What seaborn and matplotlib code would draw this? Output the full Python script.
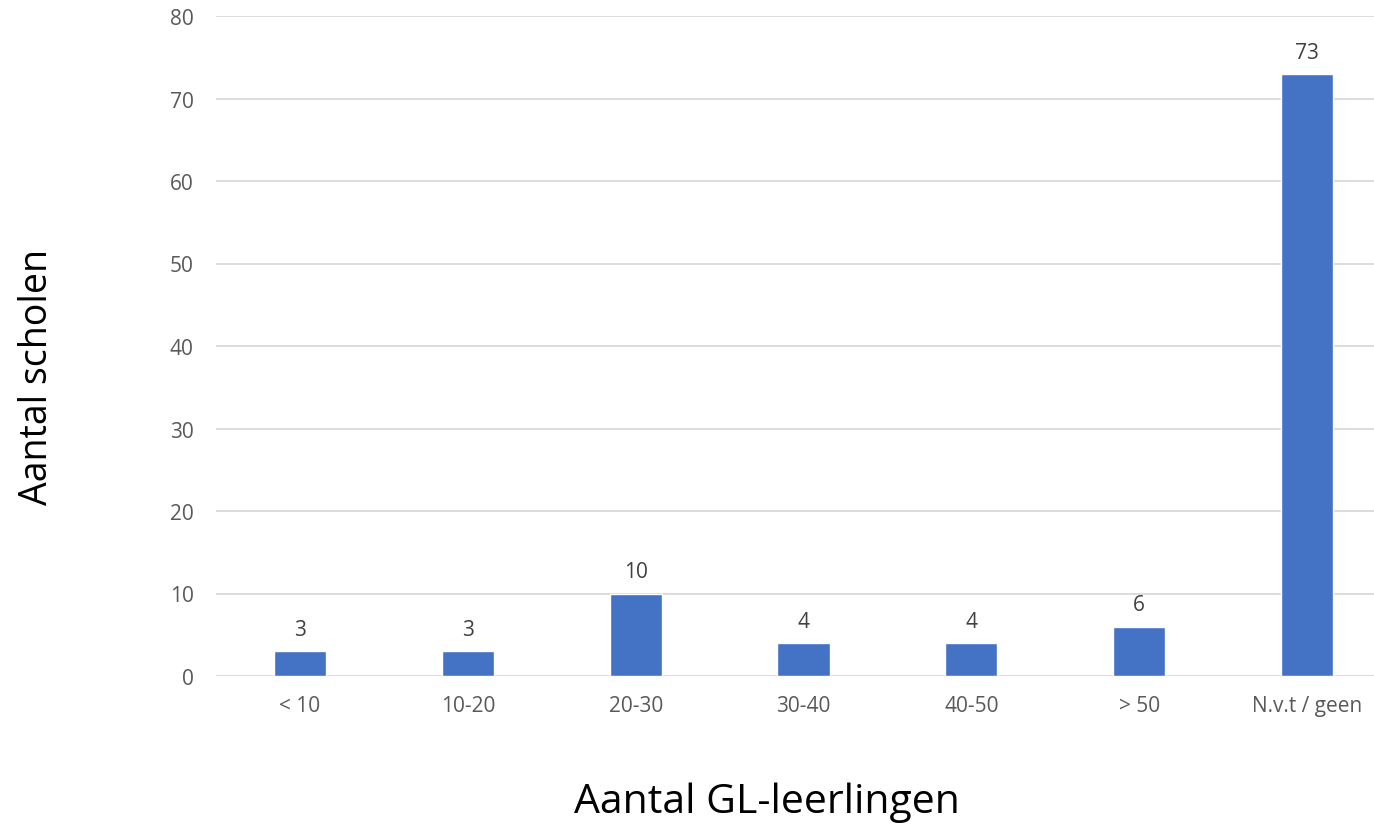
import matplotlib
matplotlib.use("Agg")
import matplotlib.pyplot as plt
import seaborn as sns
import pandas as pd

categories = ["< 10", "10-20", "20-30", "30-40", "40-50", "> 50", "N.v.t / geen"]
values = [3, 3, 10, 4, 4, 6, 73]
yticks = [0, 10, 20, 30, 40, 50, 60, 70, 80]

sns.set_theme(style="white")
plt.rcParams['font.family'] = ['Open Sans', 'DejaVu Sans']

df = pd.DataFrame({"cat": categories, "val": values})

W, H = 1374, 829
fig = plt.figure(figsize=(W / 100, H / 100), dpi=100)
ax = fig.add_axes([216 / W, (H - 677) / H, (1391 - 216) / W, (677 - 17) / H])

sns.barplot(data=df, x="cat", y="val", color="#4472C4", width=0.31, saturation=1, ax=ax, zorder=3)

ax.set_ylim(0, 80)
ax.set_xlim(-0.5, len(categories) - 0.5)
ax.set_yticks(yticks)
ax.yaxis.grid(True, color="#D9D9D9", linewidth=1.3, zorder=0)
ax.xaxis.grid(False)
for s in ax.spines.values():
    s.set_visible(False)
ax.tick_params(axis="both", length=0, labelsize=15, labelcolor="#595959")
ax.tick_params(axis="x", pad=14)
ax.tick_params(axis="y", pad=16)

for i, v in enumerate(values):
    ax.annotate(str(v), (i, v), xytext=(0, 8), textcoords="offset points",
                ha="center", va="bottom", fontsize=15, color="#404040")

ax.set_xlabel("")
ax.set_ylabel("")
fig.text(767 / W, 1 - 803 / H, "Aantal GL-leerlingen", ha="center", va="center", fontsize=29.5, color="black")
fig.text(37 / W, 1 - 377 / H, "Aantal scholen", ha="center", va="center", rotation=90, fontsize=27, color="black")

fig.savefig("out.png", dpi=100)
